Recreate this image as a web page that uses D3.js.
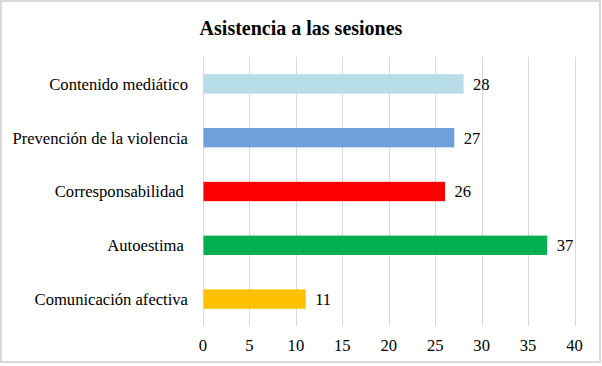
<!DOCTYPE html>
<html>
<head>
<meta charset="utf-8">
<script src="https://cdn.jsdelivr.net/npm/d3@7"></script>
<style>
  body { margin: 0; background: #fff; }
  text { font-family: "Liberation Serif", "Times New Roman", serif; fill: #000; }
</style>
</head>
<body>
<div id="chart"></div>
<script>
// values (top to bottom)
const categories = ["Contenido mediático", "Prevención de la violencia", "Corresponsabilidad ", "Autoestima ", "Comunicación afectiva"];
const values = [28, 27, 26, 37, 11];
const barColors = ["#b6dde8", "#6fa0da", "#fa0000", "#00b050", "#ffc000"];
const xTicks = [0, 5, 10, 15, 20, 25, 30, 35, 40];

const width = 602,
  height = 366,
  margin = { top: 57, right: 27, bottom: 40, left: 203 },
  fontSize = 16.6;

const svg = d3.select("#chart")
  .append("svg")
  .attr("width", width)
  .attr("height", height);

// outer frame
svg.append("rect")
  .attr("x", 1).attr("y", 1)
  .attr("width", width - 3).attr("height", height - 5)
  .attr("fill", "#fff")
  .attr("stroke", "#d9d9d9")
  .attr("stroke-width", 2);

const x = d3.scaleLinear()
  .domain([0, 40])
  .range([margin.left, width - margin.right - 0.5]);

const y = d3.scaleBand()
  .domain(categories)
  .range([margin.top, height - margin.bottom])
  .paddingInner(0.64)
  .paddingOuter(0.32);

// vertical gridlines
svg.append("g")
  .selectAll("line")
  .data(xTicks)
  .join("line")
  .attr("x1", d => Math.round(x(d)) + 0.5)
  .attr("x2", d => Math.round(x(d)) + 0.5)
  .attr("y1", margin.top)
  .attr("y2", height - margin.bottom)
  .attr("stroke", "#d9d9d9")
  .attr("stroke-width", 1);

// bars
svg.append("g")
  .selectAll("rect")
  .data(values)
  .join("rect")
  .attr("x", x(0) + 0.5)
  .attr("y", (d, i) => y(categories[i]))
  .attr("width", d => x(d) - x(0))
  .attr("height", y.bandwidth())
  .attr("fill", (d, i) => barColors[i]);

// value labels
svg.append("g")
  .attr("font-size", fontSize)
  .selectAll("text")
  .data(values)
  .join("text")
  .attr("x", d => x(d) + 10)
  .attr("y", (d, i) => y(categories[i]) + y.bandwidth() / 2)
  .attr("dy", "0.35em")
  .text(d => d);

// category labels (trailing spaces kept, as in the source)
svg.append("g")
  .attr("font-size", fontSize)
  .attr("text-anchor", "end")
  .selectAll("text")
  .data(categories)
  .join("text")
  .attr("xml:space", "preserve")
  .style("white-space", "pre")
  .attr("x", margin.left - 15)
  .attr("y", d => y(d) + y.bandwidth() / 2)
  .attr("dy", "0.35em")
  .text(d => d);

// x tick labels
svg.append("g")
  .attr("font-size", fontSize)
  .attr("text-anchor", "middle")
  .selectAll("text")
  .data(xTicks)
  .join("text")
  .attr("x", d => x(d))
  .attr("y", height - margin.bottom + 19)
  .attr("dy", "0.35em")
  .text(d => d);

// title
svg.append("text")
  .attr("x", 301)
  .attr("y", 35)
  .attr("text-anchor", "middle")
  .attr("font-size", 20)
  .attr("font-weight", "bold")
  .text("Asistencia a las sesiones");
</script>
</body>
</html>
